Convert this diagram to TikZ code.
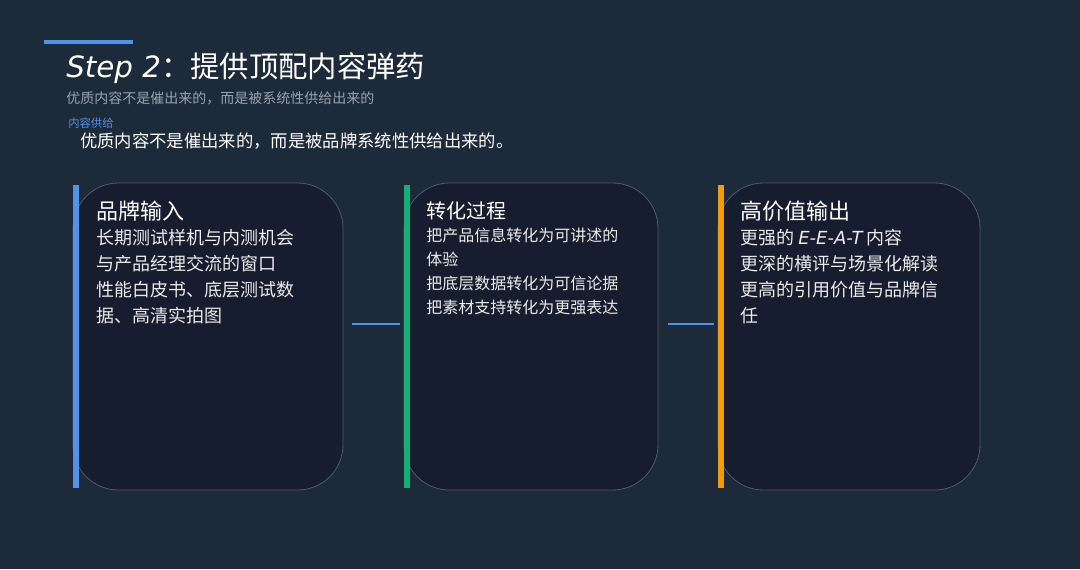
\documentclass[tikz,border=0pt]{standalone}
\usepackage{fontspec}
\setmainfont{Noto Sans CJK SC}
\newfontfamily\stepfont{DejaVu Sans}
\usetikzlibrary{positioning}
\definecolor{bgdark}{HTML}{1D2A3A}
\definecolor{cardfill}{HTML}{161D2E}
\definecolor{cardline}{HTML}{4B5B72}
\definecolor{barblue}{HTML}{4F94EA}
\definecolor{bargreen}{HTML}{12B07A}
\definecolor{barorange}{HTML}{F29C0C}
\definecolor{subgrey}{HTML}{9AA3AE}
\begin{document}
\begin{tikzpicture}[x=0.75pt, y=-0.75pt,
    card/.style = {draw=cardline, fill=cardfill, rounded corners=34pt, line width=0.6pt},
    heading/.style = {anchor=north west, inner sep=0pt, text=white, font=\fontsize{16.5pt}{20pt}\selectfont},
    body/.style = {anchor=north west, inner sep=0pt, text=white!92!black, align=left, font=\fontsize{13.5pt}{19.5pt}\selectfont},
    link/.style = {draw=barblue, line width=1.4pt}]
    \fill[bgdark] (0,0) rectangle (1080,569);
    \fill[barblue] (44,40) rectangle (133,44);
    \node[anchor=west, inner sep=0pt, text=white] (title) at (66,68) {{\stepfont\itshape\fontsize{22pt}{26pt}\selectfont Step 2}\fontsize{22pt}{26pt}\selectfont ：提供顶配内容弹药};
    \node[anchor=west, inner sep=0pt, text=subgrey, font=\fontsize{10.5pt}{12pt}\selectfont] (sub) at (66,98) {优质内容不是催出来的，而是被系统性供给出来的};
    \node[anchor=west, inner sep=0pt, text=barblue, font=\fontsize{8.5pt}{10pt}\selectfont] (tag) at (68,123) {内容供给};
    \node[anchor=west, inner sep=0pt, text=white, font=\fontsize{13pt}{15pt}\selectfont] (lead) at (80,141) {优质内容不是催出来的，而是被品牌系统性供给出来的。};

    % cards
    \draw[card] (73,183) rectangle (343,490);
    \draw[card] (404,183) rectangle (658,490);
    \draw[card] (718,183) rectangle (980,490);
    \fill[barblue] (73,185) rectangle (79,488);
    \fill[bargreen] (404,185) rectangle (410,488);
    \fill[barorange] (718,185) rectangle (724,488);

    \node[heading] (h1) at (96,201) {品牌输入};
    \node[body] (b1) [below=5pt of h1.south west, anchor=north west] {长期测试样机与内测机会\\与产品经理交流的窗口\\性能白皮书、底层测试数\\据、高清实拍图};
    \node[heading, font=\fontsize{15pt}{18pt}\selectfont] (h2) at (426,201) {转化过程};
    \node[body, font=\fontsize{12pt}{18pt}\selectfont] (b2) [below=6pt of h2.south west, anchor=north west] {把产品信息转化为可讲述的\\体验\\把底层数据转化为可信论据\\把素材支持转化为更强表达};
    \node[heading] (h3) at (740,201) {高价值输出};
    \node[body] (b3) [below=5pt of h3.south west, anchor=north west] {更强的 {\stepfont\itshape E-E-A-T} 内容\\更深的横评与场景化解读\\更高的引用价值与品牌信\\任};

    \coordinate (l1a) at (352,324);
    \coordinate (l1b) at (400,324);
    \coordinate (l2a) at (668,324);
    \coordinate (l2b) at (714,324);
    \draw[link] (l1a) -- (l1b);
    \draw[link] (l2a) -- (l2b);
\end{tikzpicture}
\end{document}
